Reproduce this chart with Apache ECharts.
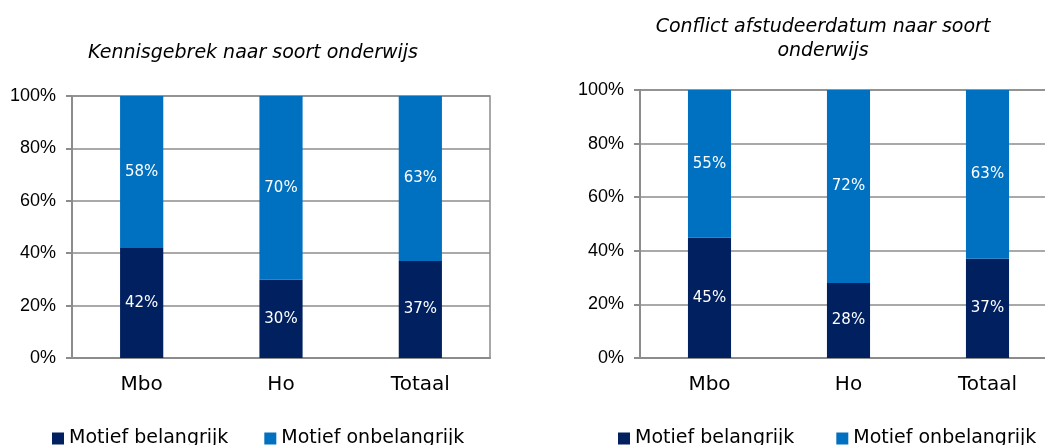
<!DOCTYPE html>
<html>
<head>
<meta charset="utf-8">
<script src="https://cdn.jsdelivr.net/npm/echarts@6/dist/echarts.min.js"></script>
<style>
  html, body { margin: 0; padding: 0; background: #fff; }
  #main { width: 1045px; height: 445px; }
</style>
</head>
<body>
<div id="main"></div>
<script>
// categorieën en waarden (percentages)
const categories = ['Mbo', 'Ho', 'Totaal'];
const kennisBelangrijk = [42, 30, 37];
const kennisOnbelangrijk = [58, 70, 63];
const conflictBelangrijk = [45, 28, 37];
const conflictOnbelangrijk = [55, 72, 63];
const seriesNames = ['Motief belangrijk', 'Motief onbelangrijk'];

const DARK = '#002060';
const LIGHT = '#0070c0';
const GRIDCOL = '#8c8c8c';
const FONT = 'DejaVu Sans';

function xAxis(gridIndex) {
  return {
    type: 'category',
    gridIndex: gridIndex,
    data: categories,
    axisLine: { lineStyle: { color: GRIDCOL, width: 2 } },
    axisTick: { show: false },
    axisLabel: { color: '#000', fontFamily: FONT, fontSize: 20, margin: 17 }
  };
}

function yAxis(gridIndex) {
  return {
    type: 'value',
    gridIndex: gridIndex,
    min: 0,
    max: 100,
    interval: 20,
    axisLine: { show: true, lineStyle: { color: GRIDCOL, width: 2 } },
    axisTick: { show: true, length: 6, lineStyle: { color: GRIDCOL, width: 2 } },
    splitLine: { lineStyle: { color: GRIDCOL, width: 1.5 } },
    axisLabel: {
      color: '#000', fontFamily: 'Liberation Sans', fontSize: 18, margin: 16,
      formatter: '{value}%'
    }
  };
}

function bar(name, data, color, idx) {
  return {
    name: name,
    type: 'bar',
    stack: 'totaal' + idx,
    xAxisIndex: idx,
    yAxisIndex: idx,
    data: data,
    barWidth: '31%',
    itemStyle: { color: color },
    label: {
      show: true,
      position: 'inside',
      color: '#fff',
      fontFamily: FONT,
      fontSize: 15,
      formatter: '{c}%'
    }
  };
}

const legendBase = {
  data: seriesNames,
  top: 424,
  itemWidth: 12, itemHeight: 12,
  icon: 'rect',
  textStyle: { fontFamily: FONT, fontSize: 19, color: '#000' },
  selectedMode: false
};

const option = {
  animation: false,
  title: [
    {
      text: 'Kennisgebrek naar soort onderwijs',
      left: 248, top: 39, textAlign: 'center',
      textStyle: { fontFamily: FONT, fontStyle: 'italic', fontWeight: 'normal', fontSize: 19, color: '#000' }
    },
    {
      text: 'Conflict afstudeerdatum naar soort\nonderwijs',
      left: 818, top: 10, textAlign: 'center',
      textStyle: { fontFamily: FONT, fontStyle: 'italic', fontWeight: 'normal', fontSize: 19, color: '#000', lineHeight: 24 }
    }
  ],
  legend: [
    Object.assign({}, legendBase, { left: 47, itemGap: 36 }),
    Object.assign({}, legendBase, { left: 613, itemGap: 42 })
  ],
  grid: [
    { left: 72, width: 418, top: 96, bottom: 87, show: true, borderColor: GRIDCOL, borderWidth: 1.5, outerBoundsMode: 'none' },
    { left: 640, width: 417, top: 90, bottom: 87, show: true, borderColor: GRIDCOL, borderWidth: 1.5, outerBoundsMode: 'none' }
  ],
  xAxis: [xAxis(0), xAxis(1)],
  yAxis: [yAxis(0), yAxis(1)],
  color: [DARK, LIGHT],
  series: [
    bar(seriesNames[0], kennisBelangrijk, DARK, 0),
    bar(seriesNames[1], kennisOnbelangrijk, LIGHT, 0),
    bar(seriesNames[0], conflictBelangrijk, DARK, 1),
    bar(seriesNames[1], conflictOnbelangrijk, LIGHT, 1)
  ]
};

const chart = echarts.init(document.getElementById('main'));
chart.setOption(option);
</script>
</body>
</html>
